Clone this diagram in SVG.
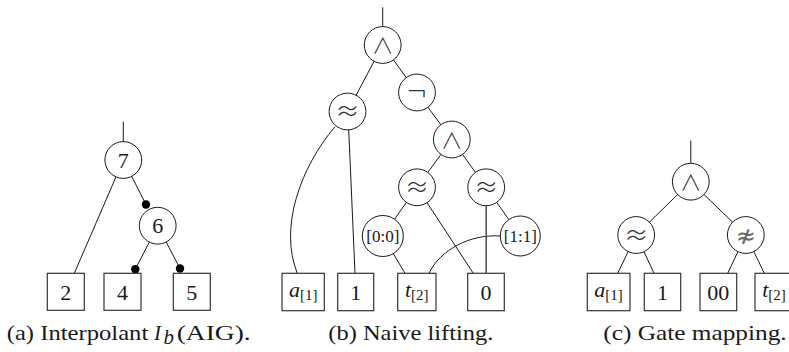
<svg xmlns="http://www.w3.org/2000/svg" width="789" height="352" viewBox="0 0 789 352">
<style>
.e{fill:none;stroke:#1a1a1a;stroke-width:1}
.eg{fill:none;stroke:#555;stroke-width:1.6}
.dot{fill:#000}
.n circle{fill:#fff;stroke:#1a1a1a;stroke-width:1}
.b rect{fill:#fff;stroke:#333;stroke-width:1.2}
.t{font-family:'Liberation Serif','Times New Roman',serif;font-size:22px;fill:#1a1a1a;text-anchor:middle}
.m{font-family:'Noto Sans CJK JP','DejaVu Sans',sans-serif;font-weight:300;font-size:24px;fill:#333;text-anchor:middle}
.w{font-family:'Noto Sans CJK JP','DejaVu Sans',sans-serif;font-weight:300;font-size:22px;fill:#333;text-anchor:middle}
.g{font-family:'DejaVu Sans',sans-serif;font-weight:200;font-size:26px;fill:#333;text-anchor:middle}
.x{font-family:'DejaVu Sans',sans-serif;font-size:24px;fill:#666;text-anchor:middle}
.s{font-family:'Liberation Serif','Times New Roman',serif;font-size:17px;fill:#1a1a1a;text-anchor:middle}
.c{font-family:'Liberation Serif','Times New Roman',serif;font-size:21px;fill:#1a1a1a}
.i{font-style:italic}
</style>
<rect width="789" height="352" fill="#fff"/>
<g id="connectors">
<line class="e" x1="123.3" y1="121.7" x2="123.3" y2="142"/>
<line class="e" x1="123.3" y1="160" x2="74.3" y2="273.3"/>
<line class="e" x1="123.3" y1="160" x2="146" y2="204.5"/>
<line class="e" x1="157.7" y1="225.7" x2="135.3" y2="269.3"/>
<line class="e" x1="157.7" y1="225.7" x2="180" y2="268.5"/>
<circle class="dot" cx="146" cy="204.5" r="4.2"/>
<circle class="dot" cx="135.3" cy="269.3" r="4.2"/>
<circle class="dot" cx="180" cy="268.5" r="4.2"/>
<line class="e" x1="382.7" y1="7.3" x2="382.7" y2="27"/>
<line class="e" x1="382.7" y1="45" x2="347.5" y2="111.5"/>
<line class="e" x1="382.7" y1="45" x2="417" y2="92.5"/>
<line class="e" x1="417" y1="92.5" x2="451.8" y2="139.5"/>
<line class="e" x1="451.8" y1="139.5" x2="417" y2="187.3"/>
<line class="e" x1="451.8" y1="139.5" x2="486.2" y2="187.3"/>
<path class="e" d="M335,126.7 C300,168 279,228 297.3,273.3"/>
<line class="e" x1="348.5" y1="125" x2="355" y2="273.3"/>
<line class="e" x1="417" y1="187.3" x2="382.8" y2="236"/>
<line class="e" x1="417" y1="187.3" x2="473.3" y2="273.3"/>
<line class="e" x1="382.8" y1="236" x2="405" y2="273.3"/>
<line class="e" x1="486.2" y1="187.3" x2="520.3" y2="236"/>
<path class="e" d="M500,236 C470,234 440,250 429,273.3"/>
<line class="eg" x1="486.2" y1="205" x2="486.2" y2="273.3"/>
<line class="e" x1="690.8" y1="140.7" x2="690.8" y2="163.3"/>
<line class="e" x1="690.8" y1="181.7" x2="636.2" y2="235"/>
<line class="e" x1="690.8" y1="181.7" x2="745.8" y2="235"/>
<line class="e" x1="636.2" y1="235" x2="617.7" y2="273.3"/>
<line class="e" x1="636.2" y1="235" x2="654" y2="273.3"/>
<line class="e" x1="745.8" y1="235" x2="727.7" y2="273.3"/>
<line class="e" x1="745.8" y1="235" x2="764.3" y2="273.3"/>
</g>
<g id="a7" class="n"><circle cx="123.3" cy="160" r="18.4"/><text class="t" x="123.3" y="167.5">7</text></g>
<g id="a6" class="n"><circle cx="157.7" cy="225.7" r="18.4"/><text class="t" x="157.7" y="233.2">6</text></g>
<g id="a2" class="b"><rect x="47.3" y="273.3" width="37" height="37"/><text class="t" x="65.8" y="299.5">2</text></g>
<g id="a4" class="b"><rect x="104" y="273.3" width="37" height="37"/><text class="t" x="122.5" y="299.5">4</text></g>
<g id="a5" class="b"><rect x="173.3" y="273.3" width="37" height="37"/><text class="t" x="191.8" y="299.5">5</text></g>
<g id="b_and1" class="n"><circle cx="382.7" cy="45" r="18.4"/><text class="w" x="382.7" y="53">∧</text></g>
<g id="b_approx1" class="n"><circle cx="347.5" cy="111.5" r="18.4"/><text class="m" x="347.5" y="120">≈</text></g>
<g id="b_not" class="n"><circle cx="417" cy="92.5" r="18.4"/><text class="g" x="417" y="101">¬</text></g>
<g id="b_and2" class="n"><circle cx="451.8" cy="139.5" r="18.4"/><text class="w" x="451.8" y="147.5">∧</text></g>
<g id="b_approx2" class="n"><circle cx="417" cy="187.3" r="18.4"/><text class="m" x="417" y="195.8">≈</text></g>
<g id="b_approx3" class="n"><circle cx="486.2" cy="187.3" r="18.4"/><text class="m" x="486.2" y="195.8">≈</text></g>
<g id="b_ext0" class="n"><circle cx="382.8" cy="236" r="20.5"/><text class="s" x="382.8" y="241.5">[0:0]</text></g>
<g id="b_ext1" class="n"><circle cx="520.3" cy="236" r="20"/><text class="s" x="520.3" y="241.5">[1:1]</text></g>
<g id="b_a" class="b"><rect x="282" y="273.3" width="42.3" height="37.4"/><text class="t" x="303.2" y="297"><tspan class="i">a</tspan><tspan font-size="15" dy="3">[1]</tspan></text></g>
<g id="b_1" class="b"><rect x="337.7" y="273.3" width="36" height="37.4"/><text class="t" x="355.7" y="299.5">1</text></g>
<g id="b_t" class="b"><rect x="397.7" y="273.3" width="38.3" height="37.4"/><text class="t" x="416.8" y="297"><tspan class="i">t</tspan><tspan font-size="15" dy="3">[2]</tspan></text></g>
<g id="b_0" class="b"><rect x="467.7" y="273.3" width="36.6" height="37.4"/><text class="t" x="486" y="299.5">0</text></g>
<g id="c_and" class="n"><circle cx="690.8" cy="181.7" r="18.4"/><text class="w" x="690.8" y="189.7">∧</text></g>
<g id="c_approx" class="n"><circle cx="636.2" cy="235" r="18.4"/><text class="m" x="636.2" y="243.5">≈</text></g>
<g id="c_napprox" class="n"><circle cx="745.8" cy="235" r="18.4"/><text class="x" x="745.8" y="243.5">≉</text></g>
<g id="c_a" class="b"><rect x="587.3" y="273.3" width="42.7" height="37.4"/><text class="t" x="608.6" y="297"><tspan class="i">a</tspan><tspan font-size="15" dy="3">[1]</tspan></text></g>
<g id="c_1" class="b"><rect x="644.3" y="273.3" width="36.4" height="37.4"/><text class="t" x="662.5" y="299.5">1</text></g>
<g id="c_00" class="b"><rect x="700" y="273.3" width="36.7" height="37.4"/><text class="t" x="718.3" y="299.5">00</text></g>
<g id="c_t" class="b"><rect x="755" y="273.3" width="38.3" height="37.4"/><text class="t" x="774" y="297"><tspan class="i">t</tspan><tspan font-size="15" dy="3">[2]</tspan></text></g>
<g id="captions">
<text class="c" x="6.7" y="340" textLength="141.6" lengthAdjust="spacingAndGlyphs">(a) Interpolant</text>
<text class="c i" x="154" y="340">I</text>
<text class="c i" x="163.5" y="344" font-size="15">b</text>
<text class="c" x="176.7" y="340" textLength="74" lengthAdjust="spacingAndGlyphs">(AIG).</text>
<text class="c" x="328.3" y="340" textLength="165" lengthAdjust="spacingAndGlyphs">(b) Naive lifting.</text>
<text class="c" x="603.3" y="340" textLength="183.4" lengthAdjust="spacingAndGlyphs">(c) Gate mapping.</text>
</g>
</svg>
